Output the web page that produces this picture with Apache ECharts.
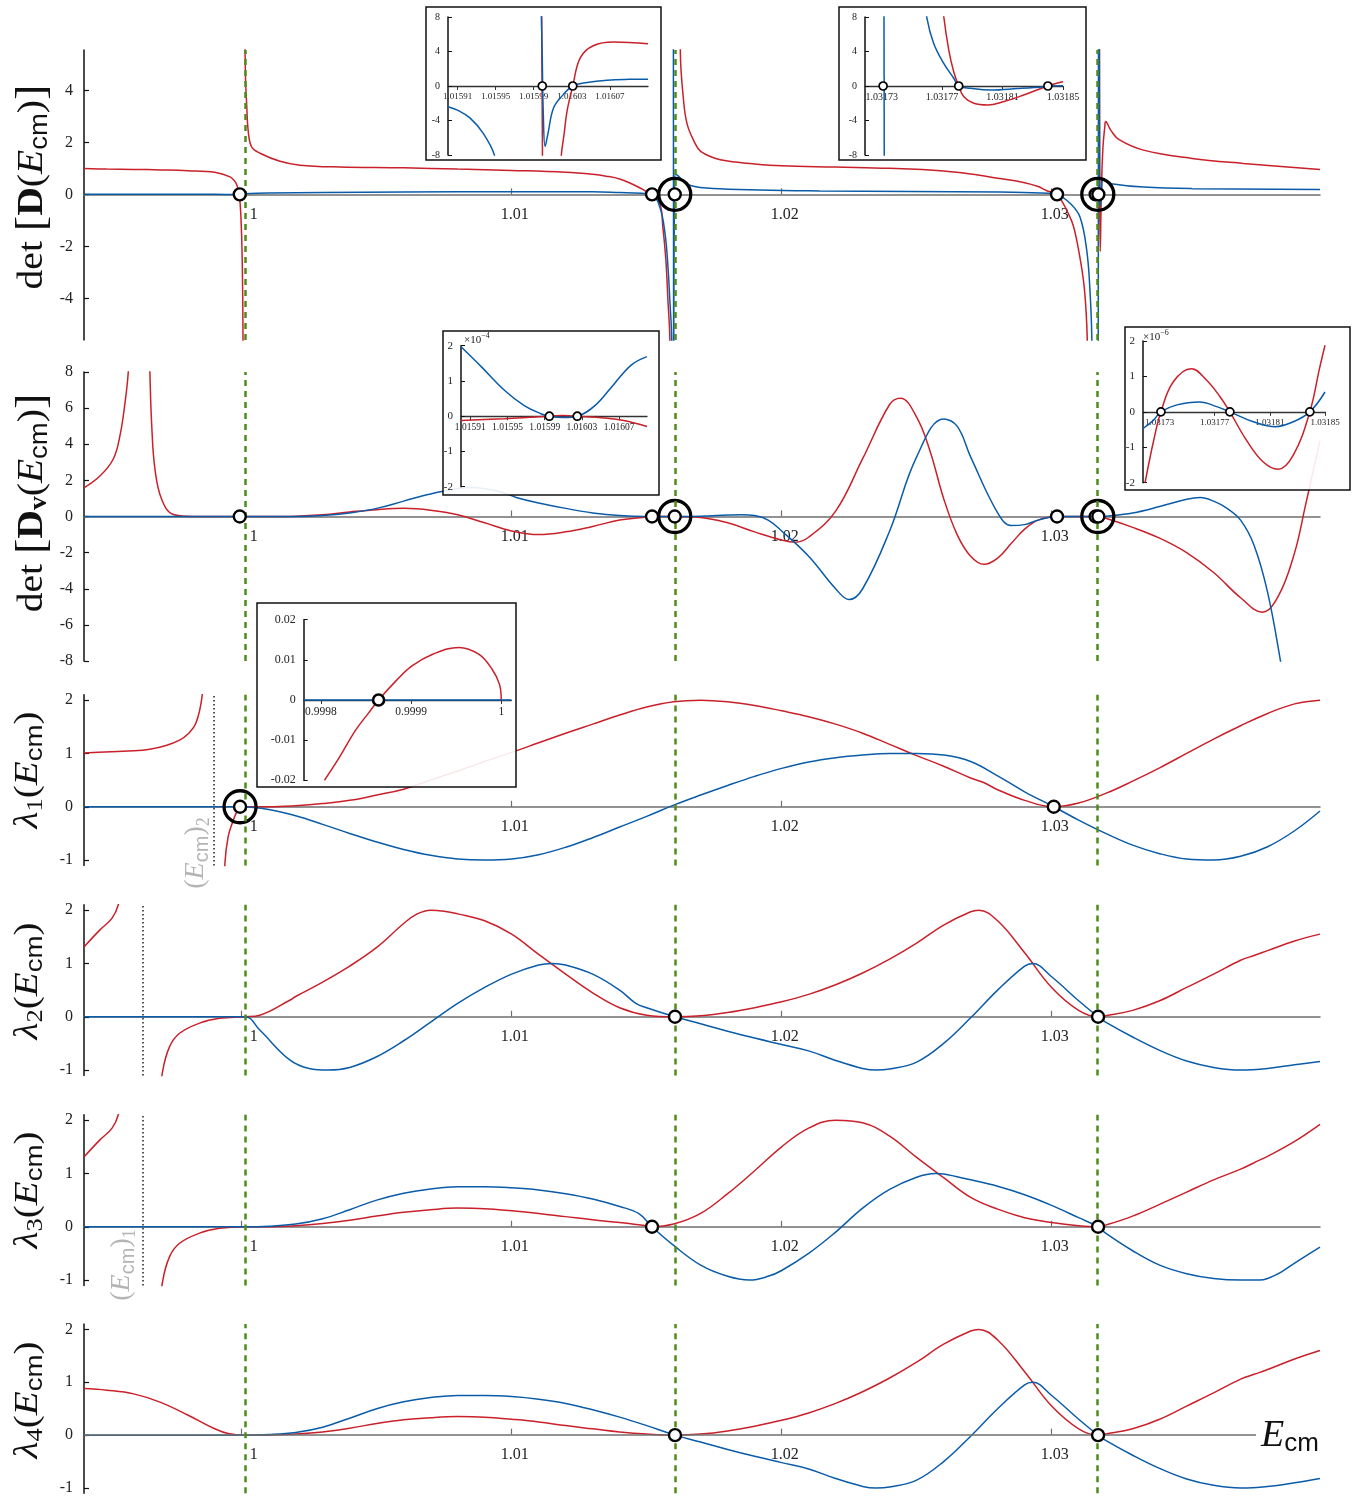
<!DOCTYPE html>
<html><head><meta charset="utf-8">
<script src="https://cdn.jsdelivr.net/npm/echarts@6/dist/echarts.min.js"></script>
<style>html,body{margin:0;padding:0;background:#fff}#c{width:1361px;height:1496px}</style>
</head><body><div id="c"></div><script>
// ---------------- DATA ----------------
const xTicks = [1, 1.01, 1.02, 1.03];
const thresholds = [1.00012, 1.01605, 1.03168];
const cutoff2 = [0.99895];
const cutoff1 = [0.99633];
const yTicksD = [-4, -2, 0, 2, 4];
const yTicksDv = [-8, -6, -4, -2, 0, 2, 4, 6, 8];
const yTicksL = [-1, 0, 1, 2];

// panel 1 : det[D(Ecm)]
const p1Red = [
 [[0.99416,0.99],[0.995,0.97],[0.996,0.96],[0.997,0.94],[0.998,0.91],[0.999,0.85],[0.99957,0.67],[0.99975,0.5],[0.99984,0.3],[0.99991,0],[0.99997,-0.8],[1.00002,-2.5],[1.00005,-5.6],[1.00007,-12]],
 [[1.00008,14],[1.0001,8],[1.00014,4.6],[1.00019,3.36],[1.00024,2.46],[1.00037,1.82],[1.00068,1.58],[1.00142,1.27],[1.00216,1.12],[1.00364,1.05],[1.006,1.02],[1.008,0.97],[1.01,0.92],[1.012,0.85],[1.013,0.77],[1.0135,0.7],[1.014,0.59],[1.0145,0.38],[1.0148,0.22],[1.01505,0.08],[1.0152,0],[1.01549,-0.35],[1.0156,-1.26],[1.01571,-2.5],[1.01579,-4.1],[1.01586,-5.6],[1.0159,-12]],
 [[1.0162,14],[1.01625,5.4],[1.01635,3.8],[1.0165,2.7],[1.0168,1.95],[1.017,1.65],[1.0175,1.4],[1.018,1.28],[1.019,1.17],[1.02,1.1],[1.022,1.05],[1.024,1.0],[1.026,0.9],[1.027,0.78],[1.028,0.62],[1.029,0.45],[1.0295,0.3],[1.0298,0.15],[1.0302,0],[1.0304,-0.3],[1.0306,-0.7],[1.0308,-1.2],[1.031,-2.15],[1.0312,-3.5],[1.0313,-5],[1.03135,-7],[1.0314,-12]],
 [[1.03176,14],[1.031771,8],[1.031781,0],[1.0318,-2.2],[1.03184,0],[1.0319,1.8],[1.03197,2.6],[1.032,2.8],[1.0322,2.45],[1.0325,2.1],[1.0334,1.7],[1.0352,1.38],[1.0371,1.19],[1.03994,0.96]]
];
const p1Blue = [
 [[0.99416,0],[0.999,0],[0.9998,-0.01],[0.99991,0],[1.0001,0.02],[1.001,0.05],[1.003,0.07],[1.006,0.09],[1.01,0.1],[1.013,0.1],[1.014,0.07],[1.0148,0.04],[1.0152,0],[1.01549,-0.5],[1.01568,-1.5],[1.01579,-2.8],[1.01586,-4.1],[1.01593,-5.6],[1.01597,-12]],
 [[1.01599,14],[1.016,-7],[1.01603,0],[1.01607,0.8],[1.01612,0.75],[1.0166,0.35],[1.0177,0.22],[1.0214,0.13],[1.0281,0.09],[1.0299,0.04],[1.0302,0],[1.0307,-0.36],[1.03105,-0.87],[1.0313,-2.15],[1.03142,-3.7],[1.03149,-5.6],[1.03155,-12]],
 [[1.03172,-14],[1.031731,0],[1.03174,14]],
 [[1.031757,14],[1.031771,2.6],[1.031781,0],[1.0318,-0.47],[1.03184,0],[1.0319,0.55],[1.032,0.5],[1.0322,0.41],[1.0334,0.28],[1.0352,0.22],[1.03994,0.19]]
];
const p1Dots = [[0.99993,0],[1.0152,0],[1.01604,0],[1.0302,0],[1.03163,0],[1.03173,0]];
const p1Rings = [[1.01604,0],[1.03171,0]];

// panel 2 : det[Dv(Ecm)]
const p2Red = [
 [[0.99416,1.59],[0.99475,2.24],[0.99524,3.17],[0.99549,4.46],[0.99568,6.3],[0.9958,8],[0.9959,11],[0.99597,16]],
 [[0.99643,16],[0.99655,11],[0.9966,8],[0.99667,5.0],[0.99679,2.6],[0.99704,0.94],[0.99747,0.11],[0.9982,0],[1.001,0],[1.002,0.02],[1.003,0.1],[1.004,0.25],[1.005,0.38],[1.006,0.45],[1.007,0.35],[1.008,0.1],[1.009,-0.35],[1.01,-0.8],[1.011,-1.0],[1.012,-0.85],[1.013,-0.55],[1.014,-0.2],[1.015,-0.03],[1.0152,0],[1.01605,0],[1.017,-0.05],[1.018,-0.35],[1.019,-0.85],[1.02,-1.3],[1.0205,-1.42],[1.021,-1.15],[1.022,0.3],[1.023,3.2],[1.024,6.2],[1.0244,6.55],[1.025,5.5],[1.0255,3.6],[1.026,1.0],[1.0265,-1.0],[1.027,-2.2],[1.0275,-2.65],[1.028,-2.3],[1.0285,-1.5],[1.029,-0.7],[1.0295,-0.2],[1.0302,0],[1.0317,0],[1.032,-0.1],[1.033,-0.6],[1.034,-1.2],[1.035,-2.0],[1.036,-3.1],[1.037,-4.5],[1.0378,-5.3],[1.0384,-4.4],[1.039,-2.0],[1.0394,0.6],[1.03994,4.2]]
];
const p2Blue = [
 [[0.99416,0],[1.002,0],[1.003,0.05],[1.004,0.2],[1.005,0.45],[1.006,0.85],[1.007,1.25],[1.0085,1.6],[1.0095,1.4],[1.0102,1.04],[1.011,0.75],[1.012,0.45],[1.013,0.2],[1.014,0.05],[1.015,0],[1.017,0.02],[1.018,0.08],[1.0185,0.1],[1.019,0.05],[1.0195,-0.2],[1.02,-0.8],[1.021,-2.2],[1.022,-4.0],[1.0225,-4.6],[1.023,-4.0],[1.024,-0.8],[1.025,3.3],[1.026,5.4],[1.0265,5.0],[1.027,3.3],[1.028,0.2],[1.0285,-0.5],[1.029,-0.45],[1.0295,-0.2],[1.0302,0],[1.0317,0],[1.032,0.02],[1.033,0.2],[1.034,0.55],[1.035,0.95],[1.0355,1.05],[1.036,0.85],[1.0365,0.45],[1.037,-0.2],[1.0375,-1.6],[1.038,-4.2],[1.0385,-8.2],[1.0388,-11]]
];
const p2Dots = [[0.99993,0],[1.0152,0],[1.01604,0],[1.0302,0],[1.03163,0],[1.03173,0]];
const p2Rings = [[1.01604,0],[1.03171,0]];

// panel 3 : lambda1
const p3Red = [
 [[0.99416,1.01],[0.996,1.05],[0.9966,1.08],[0.9972,1.15],[0.9977,1.25],[0.998,1.36],[0.9983,1.56],[0.99853,2.06],[0.9987,3.2]],
 [[0.99915,-4],[0.99938,-1.06],[0.9995,-0.56],[0.99967,-0.28],[0.99982,-0.09],[0.99994,0],[1.001,0],[1.002,0.02],[1.003,0.06],[1.004,0.12],[1.005,0.22],[1.006,0.33],[1.007,0.5],[1.008,0.67],[1.009,0.85],[1.01,1.02],[1.011,1.2],[1.012,1.38],[1.013,1.55],[1.014,1.72],[1.015,1.87],[1.016,1.97],[1.017,2.0],[1.018,1.97],[1.019,1.9],[1.02,1.8],[1.021,1.69],[1.022,1.55],[1.023,1.38],[1.024,1.17],[1.025,0.96],[1.026,0.76],[1.027,0.54],[1.0275,0.45],[1.028,0.32],[1.029,0.12],[1.03008,0],[1.031,0.07],[1.032,0.25],[1.033,0.48],[1.034,0.73],[1.035,1.0],[1.036,1.27],[1.037,1.52],[1.038,1.75],[1.039,1.93],[1.03994,2.0]]
];
const p3Blue = [
 [[0.99416,0],[1.0,0],[1.001,-0.05],[1.002,-0.17],[1.003,-0.33],[1.004,-0.5],[1.005,-0.66],[1.006,-0.8],[1.007,-0.91],[1.008,-0.98],[1.009,-1.0],[1.01,-0.98],[1.011,-0.9],[1.012,-0.76],[1.013,-0.58],[1.014,-0.38],[1.015,-0.18],[1.016,0.03],[1.017,0.22],[1.018,0.4],[1.019,0.57],[1.02,0.72],[1.021,0.84],[1.022,0.92],[1.023,0.97],[1.024,1.0],[1.025,1.0],[1.026,0.97],[1.027,0.85],[1.028,0.58],[1.029,0.28],[1.03008,0],[1.031,-0.25],[1.032,-0.5],[1.033,-0.72],[1.034,-0.88],[1.035,-0.98],[1.036,-1.0],[1.037,-0.93],[1.038,-0.75],[1.039,-0.45],[1.03994,-0.08]]
];
const p3Dots = [[0.99994,0],[1.03008,0]];
const p3Rings = [[0.99994,0]];

// panel 4 : lambda2
const p4Red = [
 [[0.99416,1.31],[0.99475,1.63],[0.9952,1.85],[0.99543,2.1],[0.9956,2.6]],
 [[0.99685,-2.0],[0.99707,-1.03],[0.99733,-0.56],[0.9977,-0.31],[0.99844,-0.12],[0.99918,-0.03],[1.00012,0],[1.00067,0.03],[1.00178,0.31],[1.002,0.38],[1.003,0.65],[1.004,0.95],[1.005,1.3],[1.006,1.75],[1.0065,1.93],[1.007,2.0],[1.0075,1.98],[1.008,1.93],[1.009,1.8],[1.01,1.55],[1.011,1.17],[1.012,0.8],[1.013,0.45],[1.014,0.17],[1.015,0.03],[1.01605,0],[1.017,0.02],[1.018,0.08],[1.019,0.17],[1.02,0.28],[1.021,0.42],[1.022,0.6],[1.023,0.82],[1.024,1.08],[1.025,1.38],[1.026,1.72],[1.027,1.97],[1.0273,2.0],[1.028,1.8],[1.029,1.2],[1.03,0.55],[1.031,0.12],[1.03172,0],[1.032,0.02],[1.033,0.12],[1.034,0.3],[1.035,0.55],[1.036,0.8],[1.037,1.06],[1.0375,1.15],[1.038,1.24],[1.039,1.42],[1.03994,1.55]]
];
const p4Blue = [
 [[0.99416,0],[1.00012,0],[1.00067,-0.25],[1.00178,-0.81],[1.0025,-0.97],[1.0032,-1.0],[1.004,-0.95],[1.005,-0.75],[1.006,-0.45],[1.007,-0.1],[1.008,0.25],[1.009,0.55],[1.01,0.8],[1.011,0.97],[1.0115,1.0],[1.012,0.97],[1.013,0.8],[1.014,0.5],[1.0146,0.25],[1.015,0.17],[1.01605,0],[1.017,-0.13],[1.018,-0.27],[1.019,-0.4],[1.02,-0.52],[1.021,-0.64],[1.022,-0.82],[1.023,-0.97],[1.0235,-1.0],[1.024,-0.98],[1.025,-0.85],[1.026,-0.5],[1.027,-0.02],[1.028,0.5],[1.029,0.95],[1.0293,1.0],[1.03,0.75],[1.031,0.3],[1.03172,0],[1.032,-0.1],[1.033,-0.38],[1.034,-0.63],[1.035,-0.83],[1.036,-0.95],[1.037,-1.0],[1.038,-0.97],[1.039,-0.9],[1.03994,-0.84]]
];
const p4Dots = [[1.01605,0],[1.03172,0]];
const p4Rings = [];

// panel 5 : lambda3
const p5Red = [
 [[0.99416,1.31],[0.99475,1.63],[0.9952,1.85],[0.99543,2.1],[0.9956,2.6]],
 [[0.99685,-2.0],[0.99707,-1.03],[0.99733,-0.56],[0.9977,-0.31],[0.99844,-0.12],[0.99918,-0.03],[1.00012,0],[1.001,0],[1.002,0.02],[1.003,0.06],[1.004,0.12],[1.005,0.2],[1.006,0.27],[1.007,0.32],[1.008,0.35],[1.009,0.34],[1.01,0.3],[1.011,0.25],[1.012,0.19],[1.013,0.13],[1.014,0.08],[1.015,0.02],[1.0152,0],[1.016,0.05],[1.017,0.25],[1.018,0.62],[1.019,1.05],[1.02,1.5],[1.021,1.85],[1.022,2.0],[1.023,1.95],[1.024,1.7],[1.025,1.3],[1.026,0.92],[1.027,0.55],[1.028,0.33],[1.029,0.17],[1.03,0.08],[1.031,0.02],[1.03172,0],[1.032,0.03],[1.033,0.2],[1.034,0.42],[1.035,0.65],[1.036,0.88],[1.037,1.08],[1.0377,1.25],[1.038,1.32],[1.039,1.6],[1.03994,1.92]]
];
const p5Blue = [
 [[0.99416,0],[1.00012,0],[1.001,0.01],[1.002,0.05],[1.003,0.15],[1.004,0.32],[1.005,0.5],[1.006,0.63],[1.007,0.71],[1.008,0.75],[1.009,0.75],[1.01,0.73],[1.011,0.69],[1.012,0.62],[1.013,0.52],[1.014,0.38],[1.0147,0.25],[1.0152,0],[1.016,-0.35],[1.017,-0.72],[1.018,-0.93],[1.0188,-1.0],[1.0195,-0.93],[1.02,-0.82],[1.021,-0.5],[1.022,-0.1],[1.023,0.35],[1.024,0.7],[1.025,0.93],[1.0257,1.0],[1.026,0.99],[1.027,0.88],[1.028,0.76],[1.029,0.6],[1.03,0.4],[1.031,0.17],[1.03172,0],[1.032,-0.12],[1.033,-0.45],[1.034,-0.72],[1.035,-0.88],[1.036,-0.97],[1.037,-1.0],[1.0377,-1.0],[1.038,-0.97],[1.0385,-0.85],[1.039,-0.68],[1.03994,-0.38]]
];
const p5Dots = [[1.0152,0],[1.03172,0]];
const p5Rings = [];

// panel 6 : lambda4
const p6Red = [
 [[0.99416,0.88],[0.995,0.85],[0.996,0.78],[0.997,0.62],[0.998,0.38],[0.999,0.12],[0.9995,0.03],[1.00012,0],[1.001,0],[1.002,0.02],[1.003,0.06],[1.004,0.13],[1.005,0.22],[1.006,0.29],[1.007,0.33],[1.008,0.35],[1.009,0.34],[1.01,0.3],[1.011,0.25],[1.012,0.18],[1.013,0.12],[1.014,0.06],[1.015,0.02],[1.01605,0],[1.017,0.02],[1.018,0.08],[1.019,0.17],[1.02,0.28],[1.021,0.42],[1.022,0.6],[1.023,0.82],[1.024,1.08],[1.025,1.38],[1.026,1.72],[1.027,1.97],[1.0273,2.0],[1.028,1.8],[1.029,1.2],[1.03,0.55],[1.031,0.12],[1.03172,0],[1.032,0.02],[1.033,0.12],[1.034,0.3],[1.035,0.55],[1.036,0.8],[1.037,1.06],[1.0375,1.15],[1.038,1.24],[1.039,1.44],[1.03994,1.6]]
];
const p6Blue = [
 [[0.99416,0],[1.00012,0],[1.001,0.01],[1.002,0.05],[1.003,0.15],[1.004,0.32],[1.005,0.5],[1.006,0.63],[1.007,0.71],[1.008,0.75],[1.009,0.75],[1.01,0.73],[1.011,0.68],[1.012,0.6],[1.013,0.48],[1.014,0.34],[1.015,0.18],[1.01605,0],[1.017,-0.13],[1.018,-0.27],[1.019,-0.4],[1.02,-0.52],[1.021,-0.64],[1.022,-0.82],[1.023,-0.97],[1.0235,-1.0],[1.024,-0.98],[1.025,-0.85],[1.026,-0.5],[1.027,-0.02],[1.028,0.5],[1.029,0.95],[1.0293,1.0],[1.03,0.75],[1.031,0.3],[1.03172,0],[1.032,-0.1],[1.033,-0.38],[1.034,-0.63],[1.035,-0.83],[1.036,-0.95],[1.037,-1.0],[1.038,-0.97],[1.039,-0.9],[1.03994,-0.82]]
];
const p6Dots = [[1.01605,0],[1.03172,0]];
const p6Rings = [];

// insets
const insAX = [1.01591,1.01595,1.01599,1.01603,1.01607];
const insAY = [-8,-4,0,4,8];
const insARed = [
 [[1.015998,14],[1.0159995,-14]],
 [[1.016017,-12],[1.016019,-8],[1.016022,-5.5],[1.016025,-2.9],[1.016031,0],[1.016039,3.3],[1.016053,4.7],[1.016074,5.1],[1.01611,4.9]]
];
const insABlue = [
 [[1.0159,-2.4],[1.01591,-2.8],[1.015923,-3.7],[1.015937,-5.5],[1.015949,-8.1],[1.01596,-14]],
 [[1.015997,14],[1.015999,3],[1.016,-3],[1.016002,-7],[1.016005,-5.5],[1.016011,-2.5],[1.016021,-1.0],[1.016031,0],[1.016046,0.4],[1.016067,0.67],[1.01609,0.77],[1.01611,0.79]]
];
const insADots = [[1.015999,0],[1.016031,0]];

const insBX = [1.03173,1.03177,1.03181,1.03185];
const insBY = [-8,-4,0,4,8];
const insBRed = [
 [[1.031769,12],[1.031771,8.2],[1.0317744,4.2],[1.0317777,1.66],[1.031781,0],[1.0317844,-1.24],[1.031791,-2.0],[1.0318,-2.2],[1.031811,-1.8],[1.031824,-1.05],[1.03184,0],[1.03185,0.5]]
];
const insBBlue = [
 [[1.0317315,14],[1.0317318,-14]],
 [[1.031757,12],[1.03176,7.85],[1.0317644,4.96],[1.031771,2.64],[1.0317777,0.9],[1.031781,0],[1.031789,-0.27],[1.031802,-0.47],[1.03182,-0.3],[1.031838,-0.08],[1.03184,0],[1.03185,0.04]]
];
const insBDots = [[1.031731,0],[1.031781,0],[1.03184,0]];

const insCX = [1.01591,1.01595,1.01599,1.01603,1.01607];
const insCY = [-2,-1,0,1,2];
const insCRed = [
 [[1.0159,-0.12],[1.015947,-0.07],[1.01598,-0.02],[1.015995,0],[1.01601,0.02],[1.016025,0],[1.016054,-0.05],[1.016075,-0.12],[1.0161,-0.29]]
];
const insCBlue = [
 [[1.0159,1.97],[1.015922,1.4],[1.015947,0.73],[1.015968,0.3],[1.015986,0.07],[1.015995,0],[1.01601,-0.04],[1.016025,0],[1.016044,0.3],[1.016062,0.83],[1.016083,1.45],[1.0161,1.69]]
];
const insCDots = [[1.015995,0],[1.016025,0]];

const insDX = [1.03173,1.03177,1.03181,1.03185];
const insDY = [-2,-1,0,1,2];
const insDRed = [
 [[1.0317195,-2],[1.0317255,-0.85],[1.031731,0],[1.03174,0.85],[1.031753,1.22],[1.031764,0.9],[1.031774,0.42],[1.031781,0],[1.031793,-0.8],[1.031805,-1.41],[1.031816,-1.62],[1.031827,-1.22],[1.031839,0],[1.031846,1.22],[1.03185,1.88]]
];
const insDBlue = [
 [[1.031718,-0.47],[1.0317255,-0.24],[1.031731,0],[1.031742,0.19],[1.031759,0.28],[1.031772,0.14],[1.031781,0],[1.031798,-0.28],[1.031814,-0.42],[1.031827,-0.28],[1.031839,0],[1.03185,0.56]]
];
const insDDots = [[1.031731,0],[1.031781,0],[1.031839,0]];

const insEX = [0.9998,0.9999,1];
const insEY = [-0.02,-0.01,0,0.01,0.02];
const insERed = [
 [[0.999804,-0.02],[0.99982,-0.0145],[0.999838,-0.0077],[0.999853,-0.0032],[0.999864,0],[0.999883,0.0047],[0.999901,0.0085],[0.999924,0.0114],[0.999953,0.0131],[0.999975,0.0114],[0.99999,0.0076],[0.999998,0.0039],[1.0,0]]
];
const insEBlue = [[[0.999781,0],[1.0000111,0]]];
const insEDots = [[0.999864,0]];

// ---------------- LAYOUT / STYLE ----------------
const SERIF = "'Liberation Serif','Times New Roman',serif";
const SANS = "'Liberation Sans',Arial,sans-serif";
const RED = '#c9202a', BLUE = '#0a5ca9', GREEN = '#4f8c1a';
const X_MIN = 0.99416, X_MAX = 1.03994, AXIS_END6 = 1.03757;

const panels = [
 {top:50, height:290, min:-5.6, max:5.55, ticks:yTicksD, red:p1Red, blue:p1Blue, dots:p1Dots, rings:p1Rings, cut:null},
 {top:372, height:289, min:-8, max:8, ticks:yTicksDv, red:p2Red, blue:p2Blue, dots:p2Dots, rings:p2Rings, cut:null},
 {top:694.8, height:170.6, min:-1.1, max:2.1, ticks:yTicksL, red:p3Red, blue:p3Blue, dots:p3Dots, rings:p3Rings, cut:cutoff2},
 {top:904.8, height:170.6, min:-1.1, max:2.1, ticks:yTicksL, red:p4Red, blue:p4Blue, dots:p4Dots, rings:p4Rings, cut:cutoff1},
 {top:1114.8, height:170.6, min:-1.1, max:2.1, ticks:yTicksL, red:p5Red, blue:p5Blue, dots:p5Dots, rings:p5Rings, cut:cutoff1},
 {top:1324.1, height:170.6, min:-1.1, max:2.1, ticks:yTicksL, red:p6Red, blue:p6Blue, dots:p6Dots, rings:p6Rings, cut:null, shortAxis:true}
];

const insets = [
 {box:[426,7,235,153], grid:[448,17,200,138], xmin:1.0159, xmax:1.01611, ymin:-8, ymax:8, xt:insAX, yt:insAY, red:insARed, blue:insABlue, dots:insADots, xf:9, yf:10, dot:8, fx:v=>v.toFixed(5), fy:v=>String(v)},
 {box:[839,7,247,153], grid:[865,17,198,138], xmin:1.031719, xmax:1.03185, ymin:-8, ymax:8, xt:insBX, yt:insBY, red:insBRed, blue:insBBlue, dots:insBDots, xf:10, yf:10, dot:8, fx:v=>v.toFixed(5), fy:v=>String(v)},
 {box:[443,331,216,164], grid:[461,345.7,186,141], xmin:1.0159, xmax:1.0161, ymin:-2, ymax:2, xt:insCX, yt:insCY, red:insCRed, blue:insCBlue, dots:insCDots, xf:9.5, yf:11, dot:8, fx:v=>v.toFixed(5), fy:v=>String(v)},
 {box:[1125,327,225,163], grid:[1143,341,182,141.7], xmin:1.031718, xmax:1.03185, ymin:-2, ymax:2, xt:insDX, yt:insDY, red:insDRed, blue:insDBlue, dots:insDDots, xf:9, yf:11, dot:8, fx:v=>v.toFixed(5), fy:v=>String(v)},
 {box:[257,603,259,184], grid:[303.7,619.7,207.6,160.6], xmin:0.999781, xmax:1.0000111, ymin:-0.02, ymax:0.02, xt:insEX, yt:insEY, red:insERed, blue:insEBlue, dots:insEDots, xf:11.5, yf:12, dot:11, fx:v=>String(+v.toFixed(4)), fy:v=>(Math.abs(v)<1e-9?'0':v.toFixed(2))}
];

const grids = [], xAxes = [], yAxes = [], series = [];

function curve(data, color, gi, z) {
  return {type:'line', xAxisIndex:gi, yAxisIndex:gi, data, symbol:'none', showSymbol:false,
    smooth:0.4, clip:true, silent:true, z, animation:false,
    lineStyle:{color, width:1.5}};
}
function marks(data, gi, size, bw, z, fill) {
  return {type:'scatter', xAxisIndex:gi, yAxisIndex:gi, data, symbol:'circle', symbolSize:size,
    silent:true, z, animation:false, clip:false,
    itemStyle:{color:fill, borderColor:'#000', borderWidth:bw, opacity:1}};
}
function vlines(values, gi, style, z) {
  return {type:'line', xAxisIndex:gi, yAxisIndex:gi, data:[], symbol:'none', silent:true, z, animation:false,
    markLine:{silent:true, precision:8, symbol:['none','none'], label:{show:false}, animation:false,
      lineStyle:style, data: values.map(v => ({xAxis:v}))}};
}
// distance (px) from the bottom of a grid up to its y = 0 line
function zeroLift(height, ymin, ymax) { return -height * (0 - ymin) / (ymax - ymin); }

panels.forEach((p, i) => {
  grids.push({left:84, top:p.top, width:1236, height:p.height});
  xAxes.push({gridIndex:i, type:'value', min:X_MIN, max:X_MAX, position:'bottom',
    offset: zeroLift(p.height, p.min, p.max),
    axisLine:{show:!p.shortAxis, onZero:false, lineStyle:{color:'#6f6f6f', width:1.5}},
    axisTick:{show:true, inside:true, length:6, customValues:xTicks, lineStyle:{color:'#6f6f6f', width:1.2}},
    axisLabel:{show:true, customValues:xTicks, margin:12, fontFamily:SERIF, fontSize:16, color:'#222',
      formatter: v => Math.abs(v-1)<1e-9 ? '{o|1}' : '{p|'+v.toFixed(2)+'}',
      rich:{o:{padding:[0,0,0,24], fontFamily:SERIF, fontSize:16, color:'#222'},
            p:{padding:[0,0,0,6], fontFamily:SERIF, fontSize:16, color:'#222'}}},
    splitLine:{show:false}});
  yAxes.push({gridIndex:i, type:'value', min:p.min, max:p.max,
    axisLine:{show:true, onZero:false, lineStyle:{color:'#111', width:1.5}},
    axisTick:{show:true, inside:true, length:5, customValues:p.ticks, lineStyle:{color:'#111', width:1.2}},
    axisLabel:{show:true, customValues:p.ticks, margin:11, fontFamily:SERIF, fontSize:16, color:'#222'},
    splitLine:{show:false}});
  if (p.shortAxis) {
    series.push({type:'line', xAxisIndex:i, yAxisIndex:i, data:[], silent:true, z:1, animation:false,
      markLine:{silent:true, precision:8, symbol:['none','none'], label:{show:false}, animation:false,
        lineStyle:{color:'#6f6f6f', width:1.5, type:'solid'},
        data:[[{coord:[X_MIN,0]},{coord:[AXIS_END6,0]}]]}});
  }
  series.push(vlines(thresholds, i, {color:GREEN, width:2.5, type:[6,5]}, 1));
  if (p.cut) series.push(vlines(p.cut, i, {color:'#222', width:1.5, type:[1.5,2.5]}, 1));
  p.red.forEach(b => series.push(curve(b, RED, i, 2)));
  p.blue.forEach(b => series.push(curve(b, BLUE, i, 2)));
  if (p.rings.length) series.push(marks(p.rings, i, 32, 3.3, 4, 'rgba(0,0,0,0)'));
  series.push(marks(p.dots, i, 12, 2.4, 5, '#fff'));
});

const graphics = [];
insets.forEach((s, k) => {
  const gi = 6 + k;
  graphics.push({type:'rect', z:10, shape:{x:s.box[0], y:s.box[1], width:s.box[2], height:s.box[3]},
    style:{fill:'rgba(255,255,255,0.9)', stroke:'#111', lineWidth:1.5}});
  grids.push({left:s.grid[0], top:s.grid[1], width:s.grid[2], height:s.grid[3], z:10});
  xAxes.push({gridIndex:gi, type:'value', min:s.xmin, max:s.xmax, z:11, position:'bottom',
    offset: zeroLift(s.grid[3], s.ymin, s.ymax),
    axisLine:{show:true, onZero:false, lineStyle:{color:'#333', width:1.3}},
    axisTick:{show:true, inside:false, length:4, customValues:s.xt, lineStyle:{color:'#333'}},
    axisLabel:{show:true, customValues:s.xt, margin:6, fontFamily:SERIF, fontSize:s.xf, color:'#222', formatter:s.fx},
    splitLine:{show:false}});
  yAxes.push({gridIndex:gi, type:'value', min:s.ymin, max:s.ymax, z:11,
    axisLine:{show:true, onZero:false, lineStyle:{color:'#111', width:1.5}},
    axisTick:{show:true, inside:true, length:4, customValues:s.yt, lineStyle:{color:'#111'}},
    axisLabel:{show:true, customValues:s.yt, margin:8, fontFamily:SERIF, fontSize:s.yf, color:'#222', formatter:s.fy},
    splitLine:{show:false}});
  s.red.forEach(b => series.push(curve(b, RED, gi, 12)));
  s.blue.forEach(b => series.push(curve(b, BLUE, gi, 12)));
  series.push(marks(s.dots, gi, s.dot, s.dot > 9 ? 2.6 : 1.7, 13, '#fff'));
});

// titles
function rot(x, y, text, rich, sx) {
  return {type:'text', x, y, rotation:Math.PI/2, scaleX:sx||1, z:20,
    style:{text, rich, align:'center', verticalAlign:'middle', textAlign:'center', textVerticalAlign:'middle', fill:'#111'}};
}
const tRich = {
  n:{fontFamily:SERIF, fontSize:36, fontWeight:'normal', fill:'#111'},
  bk:{fontFamily:SERIF, fontSize:42, fontWeight:'normal', fill:'#111'},
  b:{fontFamily:SERIF, fontSize:36, fontWeight:'bold', fill:'#111'},
  bs:{fontFamily:SERIF, fontSize:25, fontWeight:'bold', fill:'#111', padding:[14,0,0,0]},
  i:{fontFamily:SERIF, fontSize:36, fontStyle:'italic', fontWeight:'normal', fill:'#111'},
  s:{fontFamily:SANS, fontSize:25, fontWeight:'normal', fill:'#111', padding:[14,0,0,0]}
};
const lRich = {
  n:{fontFamily:SERIF, fontSize:34, fontWeight:'normal', fill:'#111'},
  i:{fontFamily:SERIF, fontSize:34, fontStyle:'italic', fontWeight:'normal', fill:'#111'},
  ss:{fontFamily:SERIF, fontSize:23, fontWeight:'normal', fill:'#111', padding:[15,0,0,0]},
  s:{fontFamily:SANS, fontSize:24, fontWeight:'normal', fill:'#111', padding:[14,0,0,0]}
};
const gRich = {
  g:{fontFamily:SERIF, fontSize:28, fill:'#b4b4b4'},
  gi:{fontFamily:SERIF, fontSize:28, fontStyle:'italic', fill:'#b4b4b4'},
  gs:{fontFamily:SANS, fontSize:20, fill:'#b4b4b4', padding:[12,0,0,0]},
  gss:{fontFamily:SERIF, fontSize:18, fill:'#b4b4b4', padding:[16,0,0,0]}
};
graphics.push(rot(33, 187, '{n|det }{bk|[}{b|D}{n|(}{i|E}{s|cm}{n|)}{bk|]}', tRich, 1.1));
graphics.push(rot(33, 503, '{n|det }{bk|[}{b|D}{bs|v}{n|(}{i|E}{s|cm}{n|)}{bk|]}', tRich, 1.1));
graphics.push(rot(28, 770, '{i|λ}{ss|1}{n|(}{i|E}{s|cm}{n|)}', lRich, 1.15));
graphics.push(rot(28, 981, '{i|λ}{ss|2}{n|(}{i|E}{s|cm}{n|)}', lRich, 1.15));
graphics.push(rot(28, 1190, '{i|λ}{ss|3}{n|(}{i|E}{s|cm}{n|)}', lRich, 1.15));
graphics.push(rot(28, 1400, '{i|λ}{ss|4}{n|(}{i|E}{s|cm}{n|)}', lRich, 1.15));
graphics.push(rot(196, 853, '{g|(}{gi|E}{gs|cm}{g|)}{gss|2}', gRich, 1));
graphics.push(rot(122, 1265, '{g|(}{gi|E}{gs|cm}{g|)}{gss|1}', gRich, 1));
graphics.push({type:'text', x:1261, y:1436, z:20,
  style:{text:'{i|E}{s|cm}', align:'left', verticalAlign:'middle', textAlign:'left', textVerticalAlign:'middle',
    rich:{i:{fontFamily:SERIF, fontSize:38, fontStyle:'italic', fill:'#111'}, s:{fontFamily:SANS, fontSize:26, fill:'#111', padding:[16,0,0,0]}}}});
const supRich = {t:{fontFamily:SERIF, fontSize:11, fill:'#222'}, u:{fontFamily:SERIF, fontSize:8, fill:'#222', padding:[0,0,8,0]}};
graphics.push({type:'text', x:464, y:340, z:20, style:{text:'{t|×10}{u|−4}', rich:supRich, align:'left', verticalAlign:'middle', textAlign:'left', textVerticalAlign:'middle'}});
graphics.push({type:'text', x:1143, y:337, z:20, style:{text:'{t|×10}{u|−6}', rich:supRich, align:'left', verticalAlign:'middle', textAlign:'left', textVerticalAlign:'middle'}});

const chart = echarts.init(document.getElementById('c'), null, {renderer:'canvas'});
chart.setOption({
  backgroundColor:'#fff', animation:false,
  textStyle:{fontFamily:SERIF},
  grid:grids, xAxis:xAxes, yAxis:yAxes, series, graphic:{elements:graphics}
});
</script></body></html>
